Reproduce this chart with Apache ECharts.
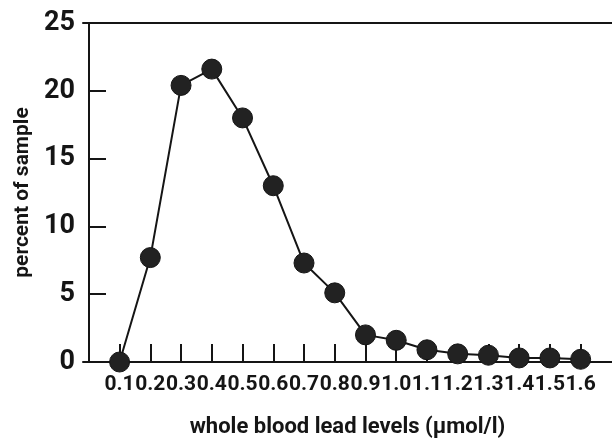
<!DOCTYPE html>
<html>
<head>
<meta charset="utf-8">
<script src="https://cdn.jsdelivr.net/npm/echarts@6/dist/echarts.min.js"></script>
<style>
html,body{margin:0;padding:0;background:#fff;}
#chart{width:612px;height:441px;}
</style>
</head>
<body>
<div id="chart"></div>
<script>
// Blood lead level classes (µmol/l)
const levels = [0.1, 0.2, 0.3, 0.4, 0.5, 0.6, 0.7, 0.8, 0.9, 1.0, 1.1, 1.2, 1.3, 1.4, 1.5, 1.6];
// Tick labels on the x axis
const xTickLabels = ['0.1', '0.2', '0.3', '0.4', '0.5', '0.6', '0.7', '0.8', '0.9', '1.0', '1.1', '1.2', '1.3', '1.4', '1.5', '1.6'];
// Percent of sample in each class
const percent = [0, 7.7, 20.4, 21.6, 18.0, 13.0, 7.3, 5.1, 2.0, 1.6, 0.9, 0.6, 0.5, 0.3, 0.3, 0.2];
// Y axis ticks
const yTicks = [0, 5, 10, 15, 20, 25];

const FONT = "Roboto, 'Liberation Sans', sans-serif";
const WEIGHT = 'bold';
const INK = '#151515';

const chart = echarts.init(document.getElementById('chart'), null, {renderer: 'canvas'});
chart.setOption({
  backgroundColor: '#ffffff',
  animation: false,
  grid: {left: 83, right: 0, top: 23, bottom: 79, containLabel: false, outerBoundsMode: 'none'},
  xAxis: [{
    type: 'value',
    min: -0.019,
    max: 1.702,
    name: 'whole blood lead levels (\u03bcmol/l)',
    nameLocation: 'middle',
    nameGap: 54,
    nameTextStyle: {fontFamily: FONT, fontSize: 22, fontWeight: WEIGHT, color: INK},
    axisLine: {show: true, lineStyle: {color: INK, width: 2}},
    axisTick: {show: true, inside: true, length: 18, customValues: levels, lineStyle: {color: INK, width: 2}},
    axisLabel: {
      show: true, margin: 12, customValues: levels,
      showMinLabel: true, showMaxLabel: true, hideOverlap: false,
      fontFamily: FONT, fontSize: 21, fontWeight: WEIGHT, color: INK,
      formatter: function (v) { return xTickLabels[Math.round(v * 10) - 1]; }
    },
    splitLine: {show: false}
  }, {
    type: 'value',
    position: 'top',
    min: -0.019,
    max: 1.702,
    axisLine: {show: true, onZero: false, lineStyle: {color: INK, width: 2}},
    axisTick: {show: false},
    axisLabel: {show: false},
    splitLine: {show: false}
  }],
  yAxis: [{
    type: 'value',
    min: 0, max: 25, interval: 5,
    name: 'percent of sample',
    nameLocation: 'middle',
    nameGap: 39,
    nameRotate: 90,
    nameTextStyle: {fontFamily: FONT, fontSize: 21, fontWeight: WEIGHT, color: INK},
    axisLine: {show: true, lineStyle: {color: INK, width: 2}},
    axisTick: {show: false},
    axisLabel: {show: true, margin: 8, fontFamily: FONT, fontSize: 27, fontWeight: WEIGHT, color: INK,
      customValues: yTicks, showMinLabel: true, showMaxLabel: true},
    splitLine: {show: false}
  }, {
    type: 'value',
    min: 0, max: 25, interval: 5,
    position: 'left',
    offset: -7,
    axisLine: {show: false},
    axisTick: {show: true, inside: true, length: 16, lineStyle: {color: INK, width: 2}},
    axisLabel: {show: false},
    splitLine: {show: false}
  }],
  series: [{
    type: 'line',
    xAxisIndex: 0,
    yAxisIndex: 0,
    data: levels.map(function (x, i) { return [x, percent[i]]; }),
    symbol: 'circle',
    symbolSize: 20,
    showAllSymbol: true,
    lineStyle: {color: INK, width: 2},
    itemStyle: {color: '#222222', borderColor: INK, borderWidth: 1},
    z: 5
  }]
});
</script>
</body>
</html>
